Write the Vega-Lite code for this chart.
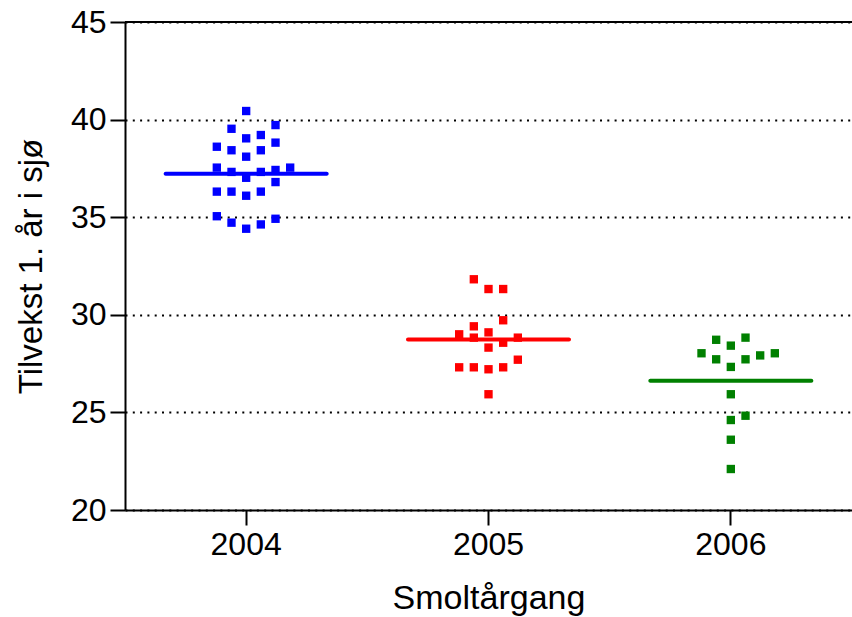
{
  "$schema": "https://vega.github.io/schema/vega-lite/v6.json",
  "width": 727,
  "height": 488,
  "autosize": "none",
  "padding": {"left": 125, "top": 22, "right": 0, "bottom": 107},
  "background": "white",
  "config": {
    "view": {"stroke": null},
    "font": "Liberation Sans",
    "axis": {
      "domainColor": "black",
      "domainWidth": 2,
      "tickColor": "black",
      "tickWidth": 2,
      "tickSize": 15,
      "labelFont": "Liberation Sans",
      "labelFontSize": 32,
      "labelColor": "black",
      "titleFont": "Liberation Sans",
      "titleFontWeight": "normal",
      "titleColor": "black"
    }
  },
  "layer": [
    {
      "data": {"values": [{"v": 45}]},
      "mark": {"type": "rule", "color": "black", "strokeWidth": 2},
      "encoding": {"y": {"field": "v", "type": "quantitative"}}
    },
    {
      "data": {
        "values": [
          {"year": "2004", "col": 0, "v": 40.44},
          {"year": "2004", "col": -1, "v": 39.53},
          {"year": "2004", "col": 2, "v": 39.72},
          {"year": "2004", "col": 1, "v": 39.21},
          {"year": "2004", "col": 0, "v": 39.04},
          {"year": "2004", "col": 2, "v": 38.82},
          {"year": "2004", "col": -2, "v": 38.61},
          {"year": "2004", "col": -1, "v": 38.43},
          {"year": "2004", "col": 1, "v": 38.43},
          {"year": "2004", "col": 0, "v": 38.10},
          {"year": "2004", "col": -2, "v": 37.54},
          {"year": "2004", "col": 3, "v": 37.54},
          {"year": "2004", "col": -1, "v": 37.32},
          {"year": "2004", "col": 1, "v": 37.32},
          {"year": "2004", "col": 2, "v": 37.42},
          {"year": "2004", "col": 0, "v": 37.02},
          {"year": "2004", "col": 2, "v": 36.80},
          {"year": "2004", "col": -2, "v": 36.31},
          {"year": "2004", "col": -1, "v": 36.31},
          {"year": "2004", "col": 1, "v": 36.31},
          {"year": "2004", "col": 0, "v": 36.10},
          {"year": "2004", "col": -2, "v": 35.05},
          {"year": "2004", "col": 2, "v": 34.92},
          {"year": "2004", "col": -1, "v": 34.72},
          {"year": "2004", "col": 1, "v": 34.63},
          {"year": "2004", "col": 0, "v": 34.41},
          {"year": "2005", "col": -1, "v": 31.82},
          {"year": "2005", "col": 0, "v": 31.32},
          {"year": "2005", "col": 1, "v": 31.32},
          {"year": "2005", "col": 1, "v": 29.72},
          {"year": "2005", "col": -1, "v": 29.41},
          {"year": "2005", "col": -2, "v": 29.00},
          {"year": "2005", "col": 0, "v": 29.10},
          {"year": "2005", "col": -1, "v": 28.83},
          {"year": "2005", "col": 2, "v": 28.83},
          {"year": "2005", "col": 1, "v": 28.57},
          {"year": "2005", "col": 0, "v": 28.32},
          {"year": "2005", "col": 2, "v": 27.70},
          {"year": "2005", "col": -2, "v": 27.31},
          {"year": "2005", "col": -1, "v": 27.31},
          {"year": "2005", "col": 1, "v": 27.31},
          {"year": "2005", "col": 0, "v": 27.21},
          {"year": "2005", "col": 0, "v": 25.93},
          {"year": "2006", "col": 1, "v": 28.83},
          {"year": "2006", "col": -1, "v": 28.72},
          {"year": "2006", "col": 0, "v": 28.42},
          {"year": "2006", "col": -2, "v": 28.03},
          {"year": "2006", "col": 3, "v": 28.03},
          {"year": "2006", "col": 2, "v": 27.92},
          {"year": "2006", "col": -1, "v": 27.72},
          {"year": "2006", "col": 1, "v": 27.72},
          {"year": "2006", "col": 0, "v": 27.33},
          {"year": "2006", "col": 0, "v": 25.93},
          {"year": "2006", "col": 1, "v": 24.83},
          {"year": "2006", "col": 0, "v": 24.61},
          {"year": "2006", "col": 0, "v": 23.60},
          {"year": "2006", "col": 0, "v": 22.10}
        ]
      },
      "mark": {"type": "point", "shape": "square", "filled": true, "opacity": 1, "size": 70},
      "encoding": {
        "x": {
          "field": "year", "type": "nominal",
          "scale": {"domain": ["2004", "2005", "2006"], "paddingInner": 0, "paddingOuter": 0},
          "axis": {"title": "Smoltårgang", "titleFontSize": 34, "labelAngle": 0, "labelPadding": 4, "titlePadding": 21, "grid": false}
        },
        "xOffset": {
          "field": "col", "type": "quantitative",
          "scale": {"domain": [-8.26, 8.26]}
        },
        "y": {
          "field": "v", "type": "quantitative",
          "scale": {"domain": [20, 45], "nice": false, "zero": false},
          "axis": {
            "title": "Tilvekst 1. år i sjø",
            "titleFontSize": 33,
            "titlePadding": 22,
            "labelPadding": 4,
            "values": [20, 25, 30, 35, 40, 45],
            "grid": true,
            "gridColor": "black",
            "gridDash": [2, 5.3],
            "gridWidth": 2,
            "gridOpacity": 1
          }
        },
        "color": {
          "field": "year", "type": "nominal",
          "scale": {"domain": ["2004", "2005", "2006"], "range": ["#0000ff", "#ff0000", "#008000"]},
          "legend": null
        }
      }
    },
    {
      "data": {
        "values": [
          {"year": "2004", "mean": 37.23},
          {"year": "2005", "mean": 28.73},
          {"year": "2006", "mean": 26.62}
        ]
      },
      "mark": {"type": "tick", "size": 165, "thickness": 4, "cornerRadius": 2, "opacity": 1},
      "encoding": {
        "x": {"field": "year", "type": "nominal"},
        "y": {"field": "mean", "type": "quantitative"},
        "color": {"field": "year", "type": "nominal", "legend": null}
      }
    }
  ]
}
